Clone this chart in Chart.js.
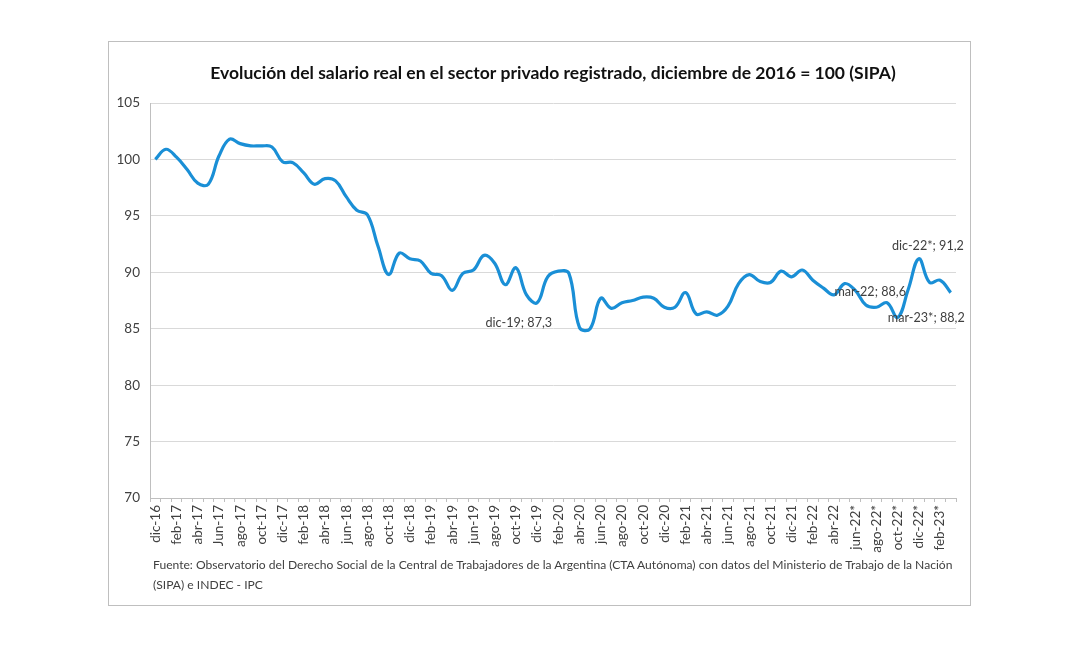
<!DOCTYPE html>
<html><head><meta charset="utf-8">
<script src="https://cdn.jsdelivr.net/npm/chart.js@4.4.0/dist/chart.umd.min.js"></script>
<style>
html,body{margin:0;padding:0;background:#fff;}
#frame{position:absolute;left:108px;top:41px;width:861px;height:563px;border:1px solid #bfbfbf;background:#fff;}
#wrap{position:absolute;left:0;top:0;width:861px;height:563px;}
#note{position:absolute;left:44px;top:513px;font:12.1px Lato, sans-serif;color:#404040;line-height:20px;width:815px;white-space:nowrap;}
</style></head>
<body>
<div id="frame"><div id="wrap"><canvas id="c"></canvas></div>
<div id="note">Fuente: Observatorio del Derecho Social de la Central de Trabajadores de la Argentina (CTA Autónoma) con datos del Ministerio de Trabajo de la Nación<br>(SIPA) e INDEC - IPC</div></div>
<script>
const months = [
 'dic-16','ene-17','feb-17','mar-17','abr-17','may-17','Jun-17','jul-17','ago-17','sep-17','oct-17','nov-17',
 'dic-17','ene-18','feb-18','mar-18','abr-18','may-18','jun-18','jul-18','ago-18','sep-18','oct-18','nov-18',
 'dic-18','ene-19','feb-19','mar-19','abr-19','may-19','jun-19','jul-19','ago-19','sep-19','oct-19','nov-19',
 'dic-19','ene-20','feb-20','mar-20','abr-20','may-20','jun-20','jul-20','ago-20','sep-20','oct-20','nov-20',
 'dic-20','ene-21','feb-21','mar-21','abr-21','may-21','jun-21','jul-21','ago-21','sep-21','oct-21','nov-21',
 'dic-21','ene-22','feb-22','mar-22','abr-22','may-22','jun-22*','jul-22*','ago-22*','sep-22*','oct-22*','nov-22*',
 'dic-22*','ene-23*','feb-23*','mar-23*'
];
const salarioReal = [
 100.0,100.9,100.2,99.1,97.9,97.8,100.3,101.8,101.4,101.2,101.2,101.1,
 99.8,99.7,98.8,97.8,98.3,98.1,96.7,95.5,95.1,92.3,89.8,91.7,
 91.2,91.0,89.9,89.7,88.4,89.9,90.2,91.5,90.8,88.9,90.4,88.0,
 87.3,89.6,90.1,89.9,85.1,85.0,87.7,86.8,87.3,87.5,87.8,87.7,
 86.9,86.9,88.2,86.3,86.5,86.2,87.0,89.0,89.8,89.2,89.1,90.1,
 89.6,90.2,89.3,88.6,88.0,89.0,88.4,87.1,86.9,87.3,86.0,88.5,
 91.2,89.1,89.3,88.2
];
const yTicks = [70,75,80,85,90,95,100,105];
const labeledPoints = [36,63,72,75];
const labelStyle = {36:{dx:15,dy:20,align:'right'},63:{dx:11,dy:4,align:'left'},72:{dx:9,dy:-13,align:'center'},75:{dx:14,dy:25,align:'right'}};

const annot = {
  id:'annot',
  afterDatasetsDraw(chart){
    const ctx = chart.ctx, meta = chart.getDatasetMeta(0);
    ctx.save();
    ctx.font = '12.6px Lato, sans-serif';
    ctx.fillStyle = '#404040';
    ctx.textBaseline = 'middle';
    labeledPoints.forEach(i=>{
      const p = meta.data[i], s = labelStyle[i];
      const txt = months[i] + '; ' + salarioReal[i].toFixed(1).replace('.',',');
      ctx.textAlign = s.align;
      ctx.fillText(txt, p.x + s.dx, p.y + s.dy);
    });
    ctx.restore();
  }
};

new Chart(document.getElementById('c'), {
  type:'line',
  data:{labels:months, datasets:[{data:salarioReal, borderColor:'#1a8fd6', borderWidth:3.2, tension:0.4, pointRadius:0, fill:false}]},
  options:{
    responsive:true, maintainAspectRatio:false, animation:false,
    layout:{padding:{left:0,right:12,bottom:47,top:0}},
    plugins:{
      legend:{display:false}, tooltip:{enabled:false},
      title:{display:true, fullSize:false, text:'Evolución del salario real en el sector privado registrado, diciembre de 2016 = 100 (SIPA)',
        font:{family:'Lato, sans-serif', size:17.5, weight:'bold'}, color:'#111', padding:{top:20.5,bottom:19.5}}
    },
    scales:{
      x:{
        offset:true,
        afterFit(s){ s.height = 60; },
        grid:{offset:true, drawOnChartArea:false, drawTicks:true, tickLength:4, color:'#bfbfbf'},
        border:{color:'#bfbfbf'},
        ticks:{autoSkip:false, maxRotation:90, minRotation:90, padding:3, color:'#404040',
          font:{family:'Lato, sans-serif', size:13.5},
          callback(v,i){ return i%2===0 ? months[i] : ''; }}
      },
      y:{
        min:70, max:105,
        afterFit(s){ s.width = 41; },
        afterBuildTicks(s){ s.ticks = yTicks.map(v=>({value:v})); },
        grid:{color:'#d9d9d9', lineWidth:1, drawTicks:false},
        border:{color:'#bfbfbf'},
        ticks:{padding:10, color:'#404040', font:{family:'Lato, sans-serif', size:13.5}}
      }
    }
  },
  plugins:[annot]
});
</script>
</body></html>
